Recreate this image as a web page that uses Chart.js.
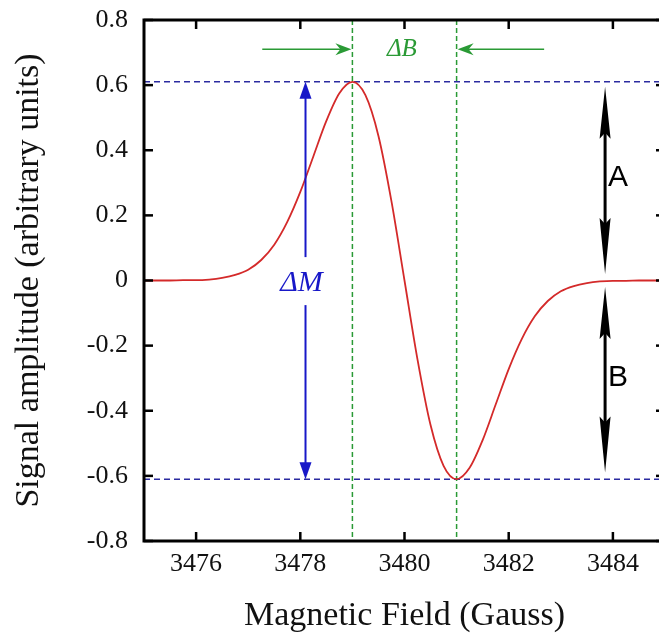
<!DOCTYPE html>
<html>
<head>
<meta charset="utf-8">
<script src="https://cdn.jsdelivr.net/npm/chart.js@4.4.1/dist/chart.umd.min.js"></script>
<style>
    html, body { margin: 0; padding: 0; background: #fff; overflow: hidden; }
    #wrap { position: relative; width: 680px; height: 633px; }
</style>
</head>
<body>
<div id="wrap"><canvas id="esrChart"></canvas></div>
<script>
// ===============================
// Data
// ===============================
const fieldGauss = [
    3475, 3475.25, 3475.5, 3475.75, 3476, 3476.25, 3476.5, 3476.75,
    3477, 3477.25, 3477.5, 3477.75, 3478, 3478.25, 3478.5, 3478.75,
    3479, 3479.25, 3479.5, 3479.75, 3480, 3480.25, 3480.5, 3480.75,
    3481, 3481.25, 3481.5, 3481.75, 3482, 3482.25, 3482.5, 3482.75,
    3483, 3483.25, 3483.5, 3483.75, 3484, 3484.25, 3484.5, 3484.75, 3485
];
const signalAmplitude = [
    0.000, 0.000, 0.000, 0.001, 0.001, 0.003, 0.008, 0.017,
    0.033, 0.063, 0.110, 0.180, 0.272, 0.381, 0.490, 0.575,
    0.610, 0.569, 0.444, 0.243, 0.000, -0.243, -0.444, -0.569,
    -0.610, -0.575, -0.490, -0.381, -0.272, -0.180, -0.110, -0.063,
    -0.033, -0.017, -0.008, -0.003, -0.001, -0.001, 0.000, 0.000, 0.000
];
const xTicks = [3476, 3478, 3480, 3482, 3484];
const yTicks = [-0.8, -0.6, -0.4, -0.2, 0, 0.2, 0.4, 0.6, 0.8];

// annotation values (peak / trough)
const peakField = 3479;
const troughField = 3481;
const peakLevel = 0.61;
const troughLevel = -0.61;

// ===============================
// Drawing helpers
// ===============================
function arrowHead(ctx, tipX, tipY, dirX, dirY, len, halfW, notch, color) {
    const px = -dirY, py = dirX;
    const bx = tipX - dirX * len, by = tipY - dirY * len;
    ctx.beginPath();
    ctx.moveTo(tipX, tipY);
    ctx.lineTo(bx + px * halfW, by + py * halfW);
    ctx.lineTo(tipX - dirX * (len - notch), tipY - dirY * (len - notch));
    ctx.lineTo(bx - px * halfW, by - py * halfW);
    ctx.closePath();
    ctx.fillStyle = color;
    ctx.fill();
}

function line(ctx, x1, y1, x2, y2, color, width, dash) {
    ctx.beginPath();
    ctx.setLineDash(dash || []);
    ctx.strokeStyle = color;
    ctx.lineWidth = width;
    ctx.moveTo(x1, y1);
    ctx.lineTo(x2, y2);
    ctx.stroke();
    ctx.setLineDash([]);
}

const guidesPlugin = {
    id: "guides",
    beforeDatasetsDraw(chart) {
        const { ctx, chartArea: a, scales: { x, y } } = chart;
        ctx.save();
        // blue dashed levels
        [peakLevel, troughLevel].forEach(v => {
            const py = y.getPixelForValue(v);
            line(ctx, a.left, py, a.right, py, "#2b2ba0", 1.5, [6, 4]);
        });
        // green dashed fields
        [peakField, troughField].forEach(v => {
            const px = x.getPixelForValue(v);
            line(ctx, px, a.top, px, a.bottom, "#2a9a35", 1.5, [5, 3]);
        });
        ctx.restore();
    },
    afterDatasetsDraw(chart) {
        const { ctx, chartArea: a, scales: { x, y } } = chart;
        ctx.save();

        // ---- Delta B arrows
        const green = "#2a9a35";
        const by = y.getPixelForValue(0.71);
        const l1 = x.getPixelForValue(3477.27), l2 = x.getPixelForValue(peakField);
        const r1 = x.getPixelForValue(3482.68), r2 = x.getPixelForValue(troughField);
        line(ctx, l1, by, l2 - 8, by, green, 1.6);
        arrowHead(ctx, l2 - 1, by, 1, 0, 16, 6, 5, green);
        line(ctx, r1, by, r2 + 8, by, green, 1.6);
        arrowHead(ctx, r2 + 1, by, -1, 0, 16, 6, 5, green);
        ctx.fillStyle = green;
        ctx.font = "italic 25px 'Liberation Serif'";
        ctx.textAlign = "center";
        ctx.textBaseline = "middle";
        ctx.fillText("\u0394B", x.getPixelForValue(3479.95), by);

        // ---- Delta M arrow
        const blue = "#1818c8";
        const mx = x.getPixelForValue(3478.1);
        const mTop = y.getPixelForValue(peakLevel), mBot = y.getPixelForValue(troughLevel);
        const labelY = y.getPixelForValue(-0.008);
        line(ctx, mx, mTop + 12, mx, labelY - 26, blue, 2);
        line(ctx, mx, labelY + 22, mx, mBot - 12, blue, 2);
        arrowHead(ctx, mx, mTop, 0, -1, 17, 6, 0, blue);
        arrowHead(ctx, mx, mBot, 0, 1, 17, 6, 0, blue);
        ctx.fillStyle = blue;
        ctx.font = "italic 30px 'Liberation Serif'";
        ctx.fillText("\u0394M", mx - 4, labelY);

        // ---- A / B arrows
        const ax = x.getPixelForValue(3483.85);
        const pairs = [[0.595, 0.02], [-0.02, -0.59]];
        pairs.forEach(([t, b]) => {
            const ty = y.getPixelForValue(t), byy = y.getPixelForValue(b);
            line(ctx, ax, ty + 20, ax, byy - 20, "#000", 3);
            arrowHead(ctx, ax, ty, 0, -1, 52, 5.5, 6, "#000");
            arrowHead(ctx, ax, byy, 0, 1, 56, 5.5, 6, "#000");
        });
        ctx.fillStyle = "#000";
        ctx.font = "30px 'Liberation Sans'";
        ctx.textAlign = "left";
        ctx.fillText("A", ax + 3, y.getPixelForValue(0.315));
        ctx.fillText("B", ax + 3, y.getPixelForValue(-0.30));

        // ---- frame and inward ticks
        ctx.strokeStyle = "#000";
        ctx.lineWidth = 3;
        ctx.strokeRect(a.left, a.top, a.right - a.left, a.bottom - a.top);
        xTicks.forEach(v => {
            const px = x.getPixelForValue(v);
            line(ctx, px, a.bottom, px, a.bottom - 9, "#000", 2.5);
            line(ctx, px, a.top, px, a.top + 9, "#000", 2.5);
        });
        yTicks.forEach(v => {
            const py = y.getPixelForValue(v);
            line(ctx, a.left, py, a.left + 9, py, "#000", 2.5);
            line(ctx, a.right, py, a.right - 9, py, "#000", 2.5);
        });
        ctx.restore();
    }
};

// ===============================
// Chart
// ===============================
Chart.defaults.font.family = "Liberation Serif";

new Chart(document.getElementById("esrChart"), {
    type: "line",
    data: {
        datasets: [{
            data: fieldGauss.map((f, i) => ({ x: f, y: signalAmplitude[i] })),
            borderColor: "#d42a2a",
            borderWidth: 1.8,
            pointRadius: 0,
            cubicInterpolationMode: "monotone",
            fill: false
        }]
    },
    options: {
        responsive: true,
        maintainAspectRatio: false,
        animation: false,
        layout: { padding: { top: 20, right: 15, left: 0, bottom: 0 } },
        plugins: { legend: { display: false }, tooltip: { enabled: false } },
        scales: {
            x: {
                type: "linear",
                min: 3475,
                max: 3485,
                afterBuildTicks: s => { s.ticks = xTicks.map(v => ({ value: v })); },
                afterFit: s => { s.height = 92; s.paddingLeft = 0; s.paddingRight = 0; },
                grid: { display: false, drawTicks: false },
                border: { display: false },
                ticks: {
                    padding: 8,
                    color: "#111",
                    font: { family: "Liberation Serif", size: 26 },
                    callback: v => String(v)
                },
                title: {
                    display: true,
                    text: "Magnetic Field (Gauss)",
                    color: "#111",
                    padding: { top: 0, bottom: 0 },
                    font: { family: "Liberation Serif", size: 34, lineHeight: 1 }
                }
            },
            y: {
                min: -0.8,
                max: 0.8,
                afterBuildTicks: s => { s.ticks = yTicks.map(v => ({ value: v })); },
                afterFit: s => { s.width = 144; s.paddingTop = 0; s.paddingBottom = 0; },
                grid: { display: false, drawTicks: false },
                border: { display: false },
                ticks: {
                    padding: 16,
                    color: "#111",
                    font: { family: "Liberation Serif", size: 26 },
                    callback: v => (Math.abs(v) < 1e-9 ? "0" : Number(v).toFixed(1))
                },
                title: {
                    display: true,
                    text: "Signal amplitude (arbitrary units)",
                    color: "#111",
                    padding: { top: 12, bottom: 0 },
                    font: { family: "Liberation Serif", size: 34, lineHeight: 1 }
                }
            }
        }
    },
    plugins: [guidesPlugin]
});
</script>
</body>
</html>
